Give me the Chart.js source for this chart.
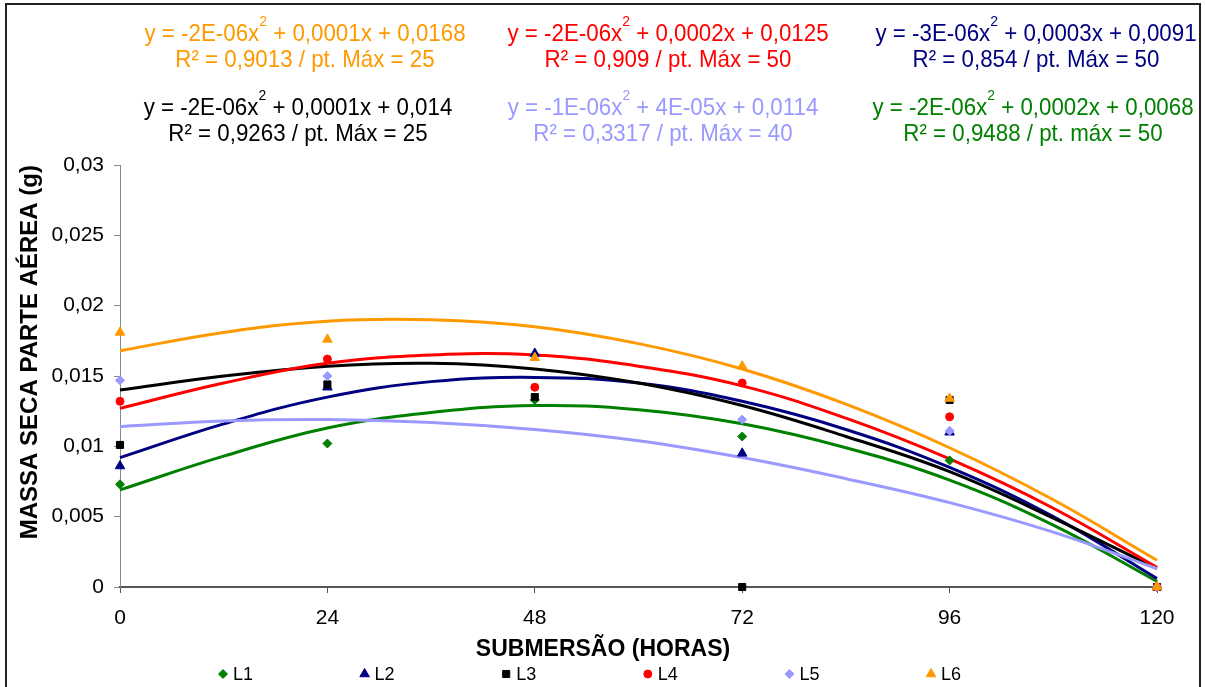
<!DOCTYPE html>
<html>
<head>
<meta charset="utf-8">
<script src="https://cdn.jsdelivr.net/npm/chart.js@4.4.1/dist/chart.umd.min.js"></script>
<style>
  html, body { margin: 0; padding: 0; background: #fff; }
  #wrap { width: 1205px; height: 687px; }
</style>
</head>
<body>
<div id="wrap"><canvas id="chart" width="1205" height="687"></canvas></div>
<script>
// horas de submersão
const hours = [0, 24, 48, 72, 96, 120];
const trendHours = [0, 12, 24, 36, 48, 60, 72, 84, 96, 108, 120];
const xTickLabels = ['0', '24', '48', '72', '96', '120'];
const yTickLabels = ['0', '0,005', '0,01', '0,015', '0,02', '0,025', '0,03'];
const seriesNames = ['L1', 'L2', 'L3', 'L4', 'L5', 'L6'];

// massa seca medida (g)
const L1 = [0.0073, 0.0102, 0.0133, 0.0107, 0.0090, 0];
const L2 = [0.0086, 0.0142, 0.0166, 0.0095, 0.0110, 0];
const L3 = [0.0101, 0.0144, 0.0135, 0, 0.0133, 0];
const L4 = [0.0132, 0.0162, 0.0142, 0.0145, 0.0121, 0];
const L5 = [0.0147, 0.0150, null, 0.0119, 0.0111, 0];
const L6 = [0.0181, 0.0176, 0.0163, 0.0157, 0.0134, 0];

// linhas de tendência (a cada 12 h)
const trendL1 = [0.0069, 0.0093, 0.0113, 0.0124, 0.0129, 0.0126, 0.0116, 0.0099, 0.0076, 0.0044, 0.0004];
const trendL2 = [0.0092, 0.0116, 0.0135, 0.0146, 0.0149, 0.0145, 0.0132, 0.0112, 0.0085, 0.0050, 0.0006];
const trendL3 = [0.0140, 0.0150, 0.0157, 0.0159, 0.0155, 0.0145, 0.0129, 0.0107, 0.0082, 0.0049, 0.0013];
const trendL4 = [0.0127, 0.0145, 0.0159, 0.0165, 0.0165, 0.0157, 0.0143, 0.0120, 0.0091, 0.0056, 0.0014];
const trendL5 = [0.0114, 0.0118, 0.0119, 0.0117, 0.0112, 0.0104, 0.0092, 0.0077, 0.0060, 0.0039, 0.0013];
const trendL6 = [0.0168, 0.0181, 0.0189, 0.0190, 0.0185, 0.0173, 0.0155, 0.0130, 0.0099, 0.0062, 0.0019];

// textos das equações
const eqStart = ['y = -2E-06x', 'y = -3E-06x', 'y = -2E-06x', 'y = -2E-06x', 'y = -1E-06x', 'y = -2E-06x'];
const eqEnd = [' + 0,0002x + 0,0068', ' + 0,0003x + 0,0091', ' + 0,0001x + 0,014',
               ' + 0,0002x + 0,0125', ' + 4E-05x + 0,0114', ' + 0,0001x + 0,0168'];
const r2Text = ['R² = 0,9488 / pt. máx = 50', 'R² = 0,854 / pt. Máx = 50', 'R² = 0,9263 / pt. Máx = 25',
                'R² = 0,909 / pt. Máx = 50', 'R² = 0,3317 / pt. Máx = 40', 'R² = 0,9013 / pt. Máx = 25'];
const xTitle = 'SUBMERSÃO (HORAS)';
const yTitle = 'MASSA SECA PARTE AÉREA (g)';

const colors = ['#008000', '#000080', '#000000', '#FF0000', '#9999FF', '#FF9900'];
const markers = ['rectRot', 'triangle', 'rect', 'circle', 'rectRot', 'triangle'];
const markerSize = [4.5, 5.5, 5, 4, 4.5, 5.5];

// posição das caixas de texto (centro x, linha de base da equação)
const labelPos = [[1033, 115], [1036, 41], [298, 115], [668, 41], [663, 115], [305, 41]];

const FONT = "'Liberation Sans', Arial, sans-serif";

const measured = [L1, L2, L3, L4, L5, L6];
const trends = [trendL1, trendL2, trendL3, trendL4, trendL5, trendL6];

const datasets = [];
measured.forEach((vals, i) => {
    datasets.push({
        type: 'scatter',
        label: seriesNames[i],
        data: hours.map((h, k) => ({ x: h, y: vals[k] })),
        pointStyle: markers[i],
        pointRadius: markerSize[i],
        pointBackgroundColor: colors[i],
        pointBorderColor: colors[i],
        pointBorderWidth: 1,
        showLine: false,
        clip: false,
        order: 5 - i
    });
});
trends.forEach((vals, i) => {
    datasets.push({
        type: 'line',
        label: 'Tendência ' + seriesNames[i],
        data: trendHours.map((h, k) => ({ x: h, y: vals[k] })),
        borderColor: colors[i],
        borderWidth: 3,
        pointRadius: 0,
        tension: 0.4,
        fill: false,
        clip: false,
        order: 11 - i
    });
});

// moldura, equações, título do eixo x e legenda
const extras = {
    id: 'extras',
    afterDraw(chart) {
        const ctx = chart.ctx;
        ctx.save();
        ctx.strokeStyle = '#222';
        ctx.lineWidth = 2;
        ctx.strokeRect(6, 4, 1194, 700);

        labelPos.forEach(([cx, base], i) => {
            ctx.fillStyle = colors[i];
            ctx.textBaseline = 'alphabetic';
            ctx.save();
            ctx.translate(cx, base);
            ctx.scale(0.93, 1);
            ctx.font = '24px ' + FONT;
            const w1 = ctx.measureText(eqStart[i]).width;
            const w3 = ctx.measureText(eqEnd[i]).width;
            ctx.font = '15px ' + FONT;
            const w2 = ctx.measureText('2').width;
            let x = -(w1 + w2 + w3) / 2;
            ctx.font = '24px ' + FONT;
            ctx.fillText(eqStart[i], x, 0);
            ctx.font = '15px ' + FONT;
            ctx.fillText('2', x + w1, -15);
            ctx.font = '24px ' + FONT;
            ctx.fillText(eqEnd[i], x + w1 + w2, 0);
            ctx.textAlign = 'center';
            ctx.fillText(r2Text[i], 0, 26);
            ctx.restore();
        });

        // título do eixo x (no original não fica centrado na área do gráfico)
        ctx.fillStyle = '#000';
        ctx.font = 'bold 23px ' + FONT;
        ctx.textAlign = 'center';
        ctx.textBaseline = 'middle';
        ctx.fillText(xTitle, 603, 650);

        // legenda
        ctx.font = '18px ' + FONT;
        ctx.textAlign = 'left';
        seriesNames.forEach((name, i) => {
            const x = 223 + i * 141.6, y = 674;
            ctx.fillStyle = colors[i];
            ctx.strokeStyle = colors[i];
            ctx.lineWidth = 1;
            Chart.helpers.drawPoint(ctx, { pointStyle: markers[i], radius: markerSize[i], rotation: 0, borderWidth: 1 }, x, y);
            ctx.fillStyle = '#000';
            ctx.fillText(name, x + 10, y + 1);
        });
        ctx.restore();
    }
};

new Chart(document.getElementById('chart'), {
    type: 'scatter',
    data: { datasets: datasets },
    options: {
        responsive: false,
        animation: false,
        events: [],
        layout: { padding: { top: 165, right: 48, bottom: 0, left: 0 } },
        plugins: {
            legend: { display: false },
            tooltip: { enabled: false }
        },
        scales: {
            x: {
                type: 'linear',
                min: 0,
                max: 120,
                ticks: {
                    stepSize: 24,
                    color: '#000',
                    font: { family: FONT, size: 21 },
                    padding: 13,
                    callback: (v, i) => xTickLabels[i]
                },
                grid: { drawOnChartArea: false, drawTicks: true, tickLength: 6, color: '#555' },
                border: { color: '#555', width: 2 },
                title: { display: false },
                afterFit: s => { s.height = 100; }
            },
            y: {
                min: 0,
                max: 0.03,
                ticks: {
                    stepSize: 0.005,
                    color: '#000',
                    font: { family: FONT, size: 21 },
                    padding: 10,
                    callback: (v, i) => yTickLabels[i]
                },
                grid: { drawOnChartArea: false, drawTicks: true, tickLength: 6, color: '#888' },
                border: { color: '#888', width: 1 },
                title: {
                    display: true,
                    text: yTitle,
                    align: 'end',
                    color: '#000',
                    font: { family: FONT, size: 24, weight: 'bold' },
                    padding: { top: 16, bottom: 0 }
                },
                afterFit: s => { s.width = 120; }
            }
        }
    },
    plugins: [extras]
});
</script>
</body>
</html>
